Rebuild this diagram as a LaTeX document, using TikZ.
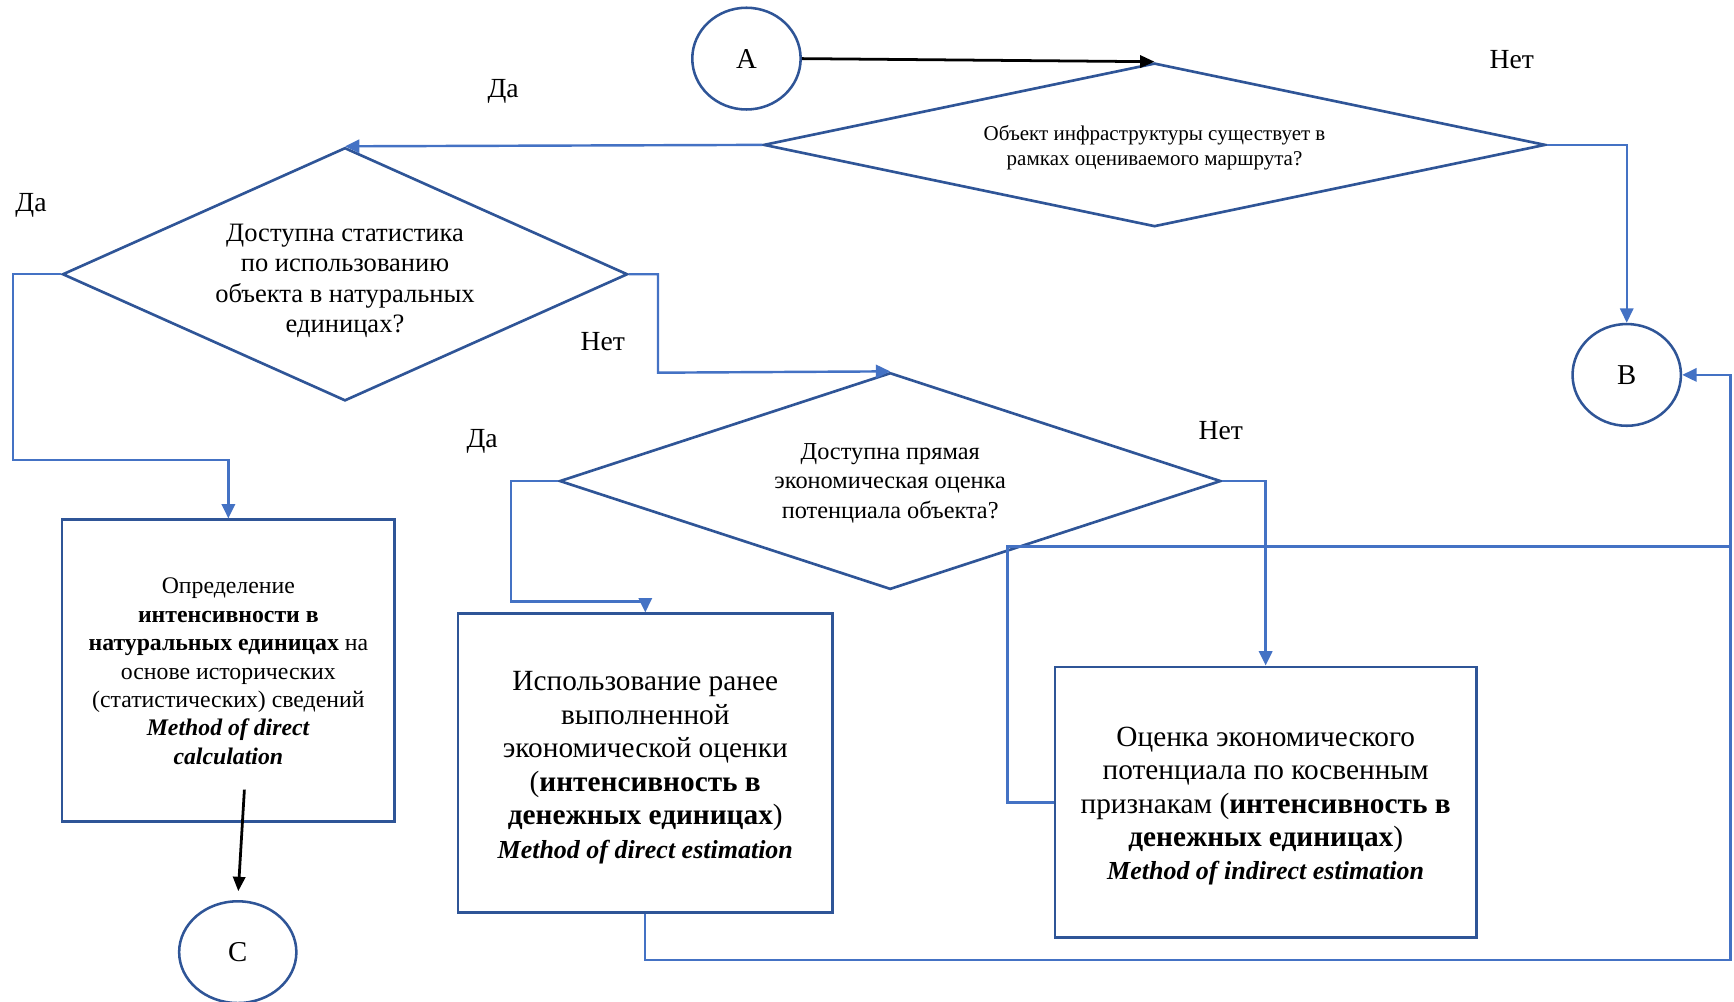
\documentclass[tikz,border=0pt]{standalone}
\usepackage{fontspec}
\setmainfont{Liberation Serif}
\usetikzlibrary{shapes.geometric,arrows.meta,calc}
\definecolor{nodeblue}{HTML}{2F5597}
\definecolor{linkblue}{HTML}{4472C4}
\begin{document}
\begin{tikzpicture}[x=1pt,y=-1pt,
  decision/.style={diamond, draw=nodeblue, line width=2.4pt, inner sep=0pt},
  procbox/.style={rectangle, draw=nodeblue, line width=2.4pt, inner sep=0pt},
  connector/.style={ellipse, draw=nodeblue, line width=2.3pt, inner sep=0pt, font=\fontsize{26}{30}\selectfont},
  boxtext/.style={inner sep=0pt, align=center},
  flow/.style={draw=linkblue, line width=2.2pt, -{Triangle[length=13pt,width=12pt]}},
  blackflow/.style={draw=black, line width=2.5pt, -{Triangle[length=13pt,width=11pt]}},
  lbl/.style={font=\fontsize{25}{28}\selectfont, inner sep=0pt}]
\useasboundingbox (0,0) rectangle (1568,906);

% connectors (circles)
\node[connector, minimum width=98pt, minimum height=92pt] (A) at (675,53) {A};
\node[connector, minimum width=98pt, minimum height=92pt] (B) at (1471,339) {B};
\node[connector, minimum width=106pt, minimum height=92pt] (C) at (215,861) {C};

% decisions (shapes)
\node[decision, minimum width=707pt, minimum height=148pt] (d1) at (1044,131) {};
\node[decision, minimum width=511pt, minimum height=229pt] (d2) at (312,248) {};
\node[decision, minimum width=598pt, minimum height=196pt] (d3) at (805,435) {};
% decision texts
\node[boxtext, font=\fontsize{19}{22.5}\selectfont] (t1) at (1044,133.5)
  {Объект инфраструктуры существует в\\рамках оцениваемого маршрута?};
\node[boxtext, font=\fontsize{24}{27.5}\selectfont] (t2) at (312,254)
  {Доступна статистика\\по использованию\\объекта в натуральных\\единицах?};
\node[boxtext, font=\fontsize{22}{27}\selectfont] (t3) at (805,437)
  {Доступна прямая\\экономическая оценка\\потенциала объекта?};

% process boxes
\node[procbox, minimum width=301pt, minimum height=273pt] (b1) at (206.5,606.5) {};
\node[procbox, minimum width=339pt, minimum height=270pt] (b2) at (583.5,690) {};
\node[procbox, minimum width=381pt, minimum height=245pt] (b3) at (1144.5,725.5) {};
\node[boxtext, font=\fontsize{21.5}{25.7}\selectfont] (t4) at (206.5,607)
  {Определение\\\textbf{интенсивности в}\\\textbf{натуральных единицах} на\\основе исторических\\(статистических) сведений\\\textbf{\textit{Method of direct}}\\\textbf{\textit{calculation}}};
\node[boxtext, font=\fontsize{26.5}{30.3}\selectfont] (t5) at (583.5,694)
  {Использование ранее\\выполненной\\экономической оценки\\(\textbf{интенсивность в}\\\textbf{денежных единицах})\\{\fontsize{23.5}{29}\selectfont\textbf{\textit{Method of direct estimation}}}};
\node[boxtext, font=\fontsize{26.5}{30}\selectfont] (t6) at (1144.5,729)
  {Оценка экономического\\потенциала по косвенным\\признакам (\textbf{интенсивность в}\\\textbf{денежных единицах})\\{\fontsize{23.5}{29}\selectfont\textbf{\textit{Method of indirect estimation}}}};

% labels
\node[lbl] (l1) at (1367,54) {Нет};
\node[lbl] (l2) at (455,83) {Да};
\node[lbl] (l3) at (28,186) {Да};
\node[lbl] (l4) at (545,309) {Нет};
\node[lbl] (l5) at (436,399) {Да};
\node[lbl] (l6) at (1104,389) {Нет};

% helper coordinates
\coordinate (k1) at (12,416);
\coordinate (k2) at (595,337);
\coordinate (k3) at (462,544);
\coordinate (k4) at (911,494);
\coordinate (k5) at (1565,494);
\coordinate (k6) at (1565,868);
\coordinate (c1) at (221,714);

% flows
\draw[blackflow] (A.east) -- (d1.north);
\draw[flow] (d1.west) -- (d2.north);
\draw[flow] (d1.east) -| (B.north);
\draw[flow] (d2.west) -| (k1) -| (b1.north);
\draw[flow] (d2.east) -| (k2) -- (d3.north);
\draw[flow] (d3.west) -| (k3) -- (k3 -| b2.north) -- (b2.north);
\draw[flow] (d3.east) -| (b3.north);
\draw[flow] (b3.west) -| (k4) -- (k5) |- (B.east);
\draw[draw=linkblue, line width=2.2pt] (b2.south) |- (k6) -- (k5);
\draw[blackflow, shorten >=8pt] (c1) -- (C.north);
\end{tikzpicture}
\end{document}
